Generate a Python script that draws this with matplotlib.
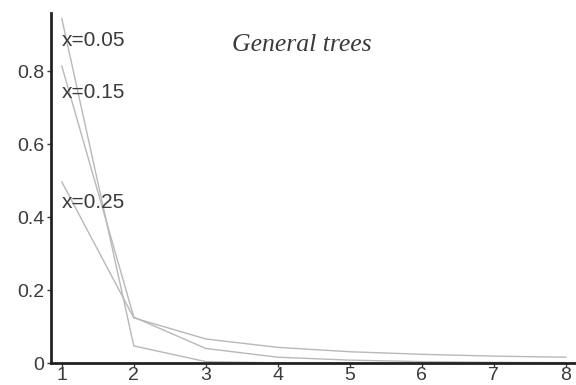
import matplotlib

matplotlib.use("Agg")
import matplotlib.pyplot as plt

# Valores (n = 1..8)
n = [1, 2, 3, 4, 5, 6, 7, 8]
p_005 = [0.945, 0.047, 0.004, 0.0005, 0.0001, 0.0, 0.0, 0.0]
p_015 = [0.815, 0.126, 0.040, 0.016, 0.008, 0.004, 0.002, 0.001]
p_025 = [0.497, 0.124, 0.066, 0.043, 0.031, 0.024, 0.019, 0.016]

etiquetas = ["x=0.05", "x=0.15", "x=0.25"]
y_etiquetas = [0.885, 0.742, 0.44]
titulo = "General trees"

plt.rcParams["font.family"] = ["Liberation Sans", "DejaVu Sans"]

fig = plt.figure(figsize=(5.76, 3.85), dpi=100)
ax = fig.add_axes([0.0885, 0.057, 0.9115, 0.909])

for serie in (p_005, p_015, p_025):
    ax.plot(n, serie, color="#b8b8b8", linewidth=1.0)

for texto, y in zip(etiquetas, y_etiquetas):
    ax.text(1.0, y, texto, fontsize=15, color="#3a3a3a", va="center", ha="left")

ax.text(0.478, 0.909, titulo, transform=ax.transAxes, fontsize=18.5,
        family="Liberation Serif", style="italic", color="#3a3a3a", ha="center", va="center")

ax.set_xlim(0.85, 8.14)
ax.set_ylim(0, 0.96)
ax.set_xticks(n)
ax.set_yticks([0, 0.2, 0.4, 0.6, 0.8])
ax.set_yticklabels(["0", "0.2", "0.4", "0.6", "0.8"])
ax.tick_params(labelsize=14, colors="#3a3a3a", length=3, width=1)
ax.tick_params(axis="x", pad=0)
ax.tick_params(axis="y", pad=2)

for lado in ("top", "right"):
    ax.spines[lado].set_visible(False)
for lado in ("left", "bottom"):
    ax.spines[lado].set_linewidth(2)
    ax.spines[lado].set_color("#222222")

fig.savefig("out.png", dpi=100)
plt.close(fig)
